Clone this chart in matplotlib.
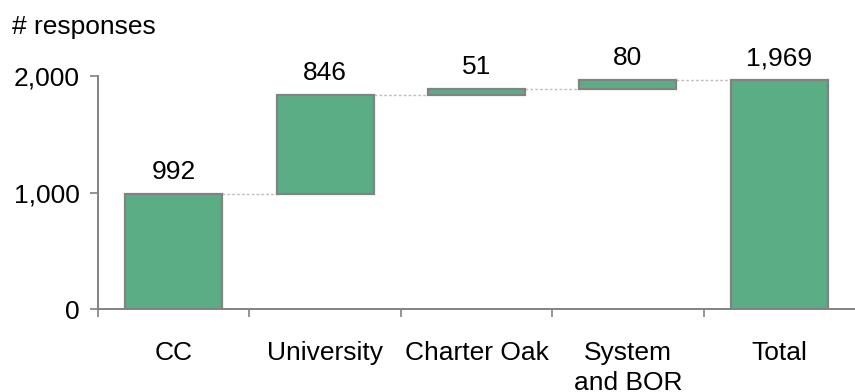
import matplotlib.pyplot as plt

plt.rcParams["font.family"] = ["Liberation Sans", "DejaVu Sans"]

categories = ["CC", "University", "Charter Oak", "System\nand BOR", "Total"]
steps = [992, 846, 51, 80]
total = sum(steps)
value_labels = ["992", "846", "51", "80", "1,969"]

bar_color = "#5aad85"
edge_color = "#828282"
fs = 19

# floating bars: each step starts where the previous one ended
bottoms = []
run = 0
for v in steps:
    bottoms.append(run)
    run += v
heights = steps + [total]
bottoms = bottoms + [0]

fig = plt.figure(figsize=(8.55, 3.92), dpi=100)
ax = fig.add_axes([0.1146, 0.2117, 0.8854, 0.594])

xs = list(range(len(categories)))
width = 0.64
ax.bar(xs, heights, bottom=bottoms, width=width, color=bar_color,
       edgecolor=edge_color, linewidth=1.6, zorder=3)

# dotted connectors between consecutive bars
for i in range(len(categories) - 1):
    level = bottoms[i] + heights[i]
    ax.plot([i + width / 2, i + 1 - width / 2], [level, level],
            color="#c0c0c0", linestyle=(0, (2, 1.5)), linewidth=1.0, zorder=2)

for x, b, h, lab in zip(xs, bottoms, heights, value_labels):
    ax.annotate(lab, (x, b + h), xytext=(0, 7), textcoords="offset points",
                ha="center", va="bottom", fontsize=fs, clip_on=False)

ax.set_xlim(-0.5, len(categories) - 0.5)
ax.set_ylim(0, 2000)
ax.set_yticks([0, 1000, 2000])
ax.set_yticklabels(["0", "1,000", "2,000"], fontsize=fs)

# boundary ticks between categories, labels centred on the bars
ax.set_xticks([i - 0.5 for i in range(len(categories))])
ax.set_xticklabels([])
ax.set_xticks(xs, minor=True)
ax.set_xticklabels(categories, minor=True, fontsize=fs, linespacing=1.3)
ax.tick_params(axis="x", which="minor", length=0, pad=23)
ax.tick_params(axis="x", which="major", length=6, color=edge_color, width=1.2)
ax.tick_params(axis="y", length=6, color=edge_color, width=1.2, pad=7)

for side in ["top", "right"]:
    ax.spines[side].set_visible(False)
for side in ["left", "bottom"]:
    ax.spines[side].set_color(edge_color)
    ax.spines[side].set_linewidth(1.4)

fig.text(0.014, 0.932, "# responses", fontsize=fs, ha="left", va="center")

fig.savefig("out.png", dpi=100)
